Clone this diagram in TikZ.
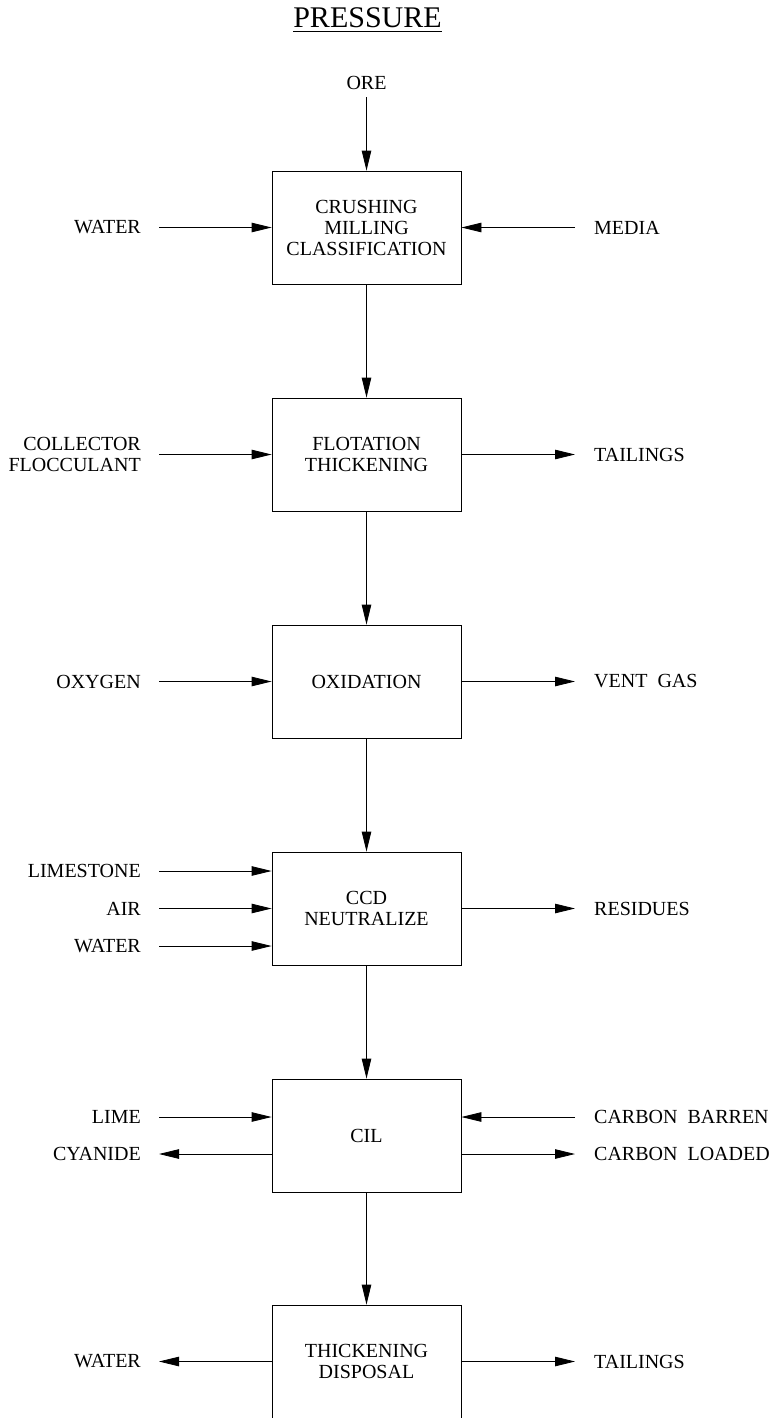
\documentclass[tikz,border=0pt]{standalone}
\usepackage{fontspec}
\setmainfont{Liberation Serif}
\usetikzlibrary{arrows.meta}
\newcommand\lblfont{\fontsize{20}{21}\selectfont}
\newcommand\ttlfont{\fontsize{30}{32}\selectfont}
\begin{document}
\begin{tikzpicture}[x=1pt,y=-1pt,
  box/.style={draw,line width=0.8pt,minimum width=189pt,minimum height=113pt,inner sep=0pt,align=center,font=\lblfont},
  lbl/.style={inner sep=0pt,font=\lblfont},
  lbll/.style={lbl,anchor=east,align=right},
  lblr/.style={lbl,anchor=west,align=left},
  flow/.style={line width=0.8pt,-{Triangle[length=20pt,width=9.5pt]}}]
\useasboundingbox (0,0) rectangle (773,1418);
\clip (0,0) rectangle (773,1418);

% title
\node[inner sep=0pt,font=\ttlfont] (title) at (367.5,18) {PRESSURE};
\draw[line width=0.8pt] ([yshift=-3pt]title.south west) -- ([yshift=-3pt]title.south east);

% boxes
\node[box] (b1) at (366.5,227.5) {CRUSHING\\MILLING\\CLASSIFICATION};
\node[box] (b2) at (366.5,454.5) {FLOTATION\\THICKENING};
\node[box] (b3) at (366.5,681.5) {OXIDATION};
\node[box] (b4) at (366.5,908.5) {CCD\\NEUTRALIZE};
\node[box] (b5) at (366.5,1135.5) {CIL};
\node[box] (b6) at (366.5,1361.5) {THICKENING\\DISPOSAL};

% main flow
\node[lbl] (ore) at (366.5,82.5) {ORE};
\draw[flow] ([yshift=-8pt]ore.south) -- (b1.north);
\draw[flow] (b1.south) -- (b2.north);
\draw[flow] (b2.south) -- (b3.north);
\draw[flow] (b3.south) -- (b4.north);
\draw[flow] (b4.south) -- (b5.north);
\draw[flow] (b5.south) -- (b6.north);

% box 1
\node[lbll] (water1) at (141,227.5) {WATER};
\node[lblr] (media) at (594,227.5) {MEDIA};
\draw[flow] ([xshift=18pt]water1.east) -- (water1.east -| b1.west);
\draw[flow] ([xshift=-19pt]media.west) -- (media.west -| b1.east);

% box 2
\node[lbll] (coll) at (141,454.5) {COLLECTOR\\FLOCCULANT};
\node[lblr] (tail1) at (594,454.5) {TAILINGS};
\draw[flow] ([xshift=18pt]coll.east) -- (coll.east -| b2.west);
\draw[flow] (tail1.west -| b2.east) -- ([xshift=-19pt]tail1.west);

% box 3
\node[lbll] (oxy) at (141,681.5) {OXYGEN};
\node[lblr] (vent) at (594,681.5) {VENT~~GAS};
\draw[flow] ([xshift=18pt]oxy.east) -- (oxy.east -| b3.west);
\draw[flow] (vent.west -| b3.east) -- ([xshift=-19pt]vent.west);

% box 4
\node[lbll] (lstone) at (141,871) {LIMESTONE};
\node[lbll] (air) at (141,908.5) {AIR};
\node[lbll] (water2) at (141,946) {WATER};
\node[lblr] (resid) at (594,908.5) {RESIDUES};
\draw[flow] ([xshift=18pt]lstone.east) -- (lstone.east -| b4.west);
\draw[flow] ([xshift=18pt]air.east) -- (air.east -| b4.west);
\draw[flow] ([xshift=18pt]water2.east) -- (water2.east -| b4.west);
\draw[flow] (resid.west -| b4.east) -- ([xshift=-19pt]resid.west);

% box 5
\node[lbll] (lime) at (141,1117) {LIME};
\node[lbll] (cyan) at (141,1154) {CYANIDE};
\node[lblr] (cbarren) at (594,1117) {CARBON~~BARREN};
\node[lblr] (cloaded) at (594,1154) {CARBON~~LOADED};
\draw[flow] ([xshift=18pt]lime.east) -- (lime.east -| b5.west);
\draw[flow] (cyan.east -| b5.west) -- ([xshift=18pt]cyan.east);
\draw[flow] ([xshift=-19pt]cbarren.west) -- (cbarren.west -| b5.east);
\draw[flow] (cloaded.west -| b5.east) -- ([xshift=-19pt]cloaded.west);

% box 6
\node[lbll] (water3) at (141,1361.5) {WATER};
\node[lblr] (tail2) at (594,1361.5) {TAILINGS};
\draw[flow] (water3.east -| b6.west) -- ([xshift=18pt]water3.east);
\draw[flow] (tail2.west -| b6.east) -- ([xshift=-19pt]tail2.west);
\end{tikzpicture}
\end{document}
